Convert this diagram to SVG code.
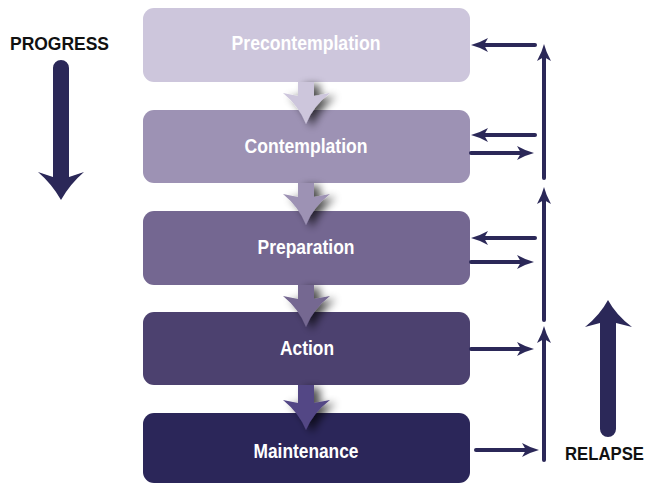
<svg xmlns="http://www.w3.org/2000/svg" width="649" height="484" viewBox="0 0 649 484">
<style>
.lbl{font-family:"Liberation Sans",Arial,sans-serif;font-weight:bold;font-size:20px;fill:#ffffff;text-anchor:middle}
.side{font-family:"Liberation Sans",Arial,sans-serif;font-weight:bold;font-size:18px;fill:#111111}
.con{stroke:#2b2858;stroke-width:4;fill:none;stroke-linecap:round;marker-end:url(#ah)}
.big{fill:#2b2858}
</style>
<defs>
<marker id="ah" markerUnits="userSpaceOnUse" markerWidth="18" markerHeight="16" refX="4" refY="8" orient="auto" viewBox="0 0 18 16">
<path d="M0,1 Q9,6 17,8 Q9,10 0,15 L4,8 Z" fill="#2b2858"/>
</marker>
<filter id="sh" x="-50%" y="-50%" width="200%" height="200%">
<feGaussianBlur in="SourceAlpha" stdDeviation="4"/>
<feOffset dx="6" dy="3" result="b"/>
<feComponentTransfer><feFuncA type="linear" slope="0.7"/></feComponentTransfer>
<feMerge><feMergeNode/><feMergeNode in="SourceGraphic"/></feMerge>
</filter>
</defs>
<rect width="649" height="484" fill="#ffffff"/>

<g id="precontemplation"><rect x="143" y="8" width="327" height="74" rx="11" fill="#cdc6dc"/><text class="lbl" x="306" y="50" textLength="149" lengthAdjust="spacingAndGlyphs">Precontemplation</text></g>
<g id="contemplation"><rect x="143" y="110" width="327" height="73" rx="11" fill="#9d92b4"/><text class="lbl" x="306" y="153" textLength="123" lengthAdjust="spacingAndGlyphs">Contemplation</text></g>
<g id="preparation"><rect x="143" y="211" width="327" height="74" rx="11" fill="#746791"/><text class="lbl" x="306" y="254" textLength="97" lengthAdjust="spacingAndGlyphs">Preparation</text></g>
<g id="action"><rect x="143" y="312" width="327" height="73" rx="11" fill="#4c416f"/><text class="lbl" x="307" y="355" textLength="54" lengthAdjust="spacingAndGlyphs">Action</text></g>
<g id="maintenance"><rect x="143" y="413" width="327" height="70" rx="11" fill="#2b2659"/><text class="lbl" x="306" y="458" textLength="105" lengthAdjust="spacingAndGlyphs">Maintenance</text></g>

<g id="stage-arrows" filter="url(#sh)">
<path d="M298,82 L314,82 L314,96 L330,93 Q313,106 306,124 Q299,106 283,93 L298,96 Z" fill="#cdc6dc"/>
<path d="M298,183 L314,183 L314,197 L330,194 Q313,207 306,225 Q299,207 283,194 L298,197 Z" fill="#9d92b4"/>
<path d="M298,285 L314,285 L314,299 L330,296 Q313,309 306,327 Q299,309 283,296 L298,299 Z" fill="#746791"/>
<path d="M298,385 L314,385 L314,403 L330,400 Q313,413 306,430 Q299,413 283,400 L298,403 Z" fill="#534785"/>
</g>

<g id="connectors">
<line class="con" x1="535" y1="45" x2="484" y2="45"/>
<line class="con" x1="535" y1="135" x2="484" y2="135"/>
<line class="con" x1="471" y1="153" x2="521" y2="153"/>
<line class="con" x1="535" y1="238" x2="484" y2="238"/>
<line class="con" x1="471" y1="262" x2="521" y2="262"/>
<line class="con" x1="471" y1="349" x2="521" y2="349"/>
<line class="con" x1="476" y1="450" x2="526" y2="450"/>
<line class="con" x1="544" y1="178" x2="544" y2="57"/>
<line class="con" x1="544" y1="320" x2="544" y2="200"/>
<line class="con" x1="544" y1="460" x2="544" y2="339"/>
</g>

<g id="progress">
<text class="side" x="10" y="50" textLength="99" lengthAdjust="spacingAndGlyphs">PROGRESS</text>
<path class="big" d="M53,68 A8,8 0 0 1 69,68 L69,177 L84,172 Q70,184 61,200 Q52,184 38,172 L53,177 Z"/>
</g>
<g id="relapse">
<path class="big" d="M600,429 L600,323 L585,327 Q600,315 608,300 Q616,315 632,327 L616,323 L616,429 A8,8 0 0 1 600,429 Z"/>
<text class="side" x="565" y="460" textLength="79" lengthAdjust="spacingAndGlyphs">RELAPSE</text>
</g>
</svg>
